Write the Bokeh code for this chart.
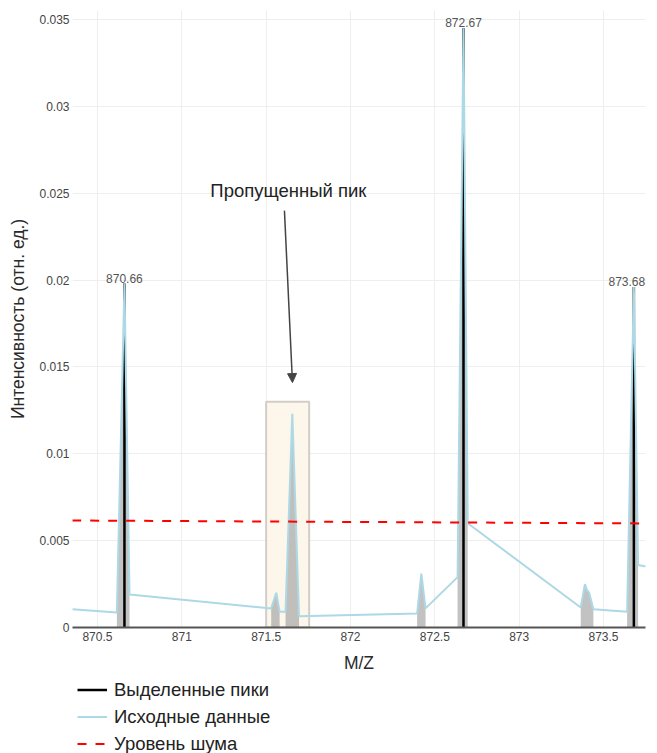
import numpy as np
from bokeh.plotting import figure
from bokeh.layouts import column
from bokeh.core.properties import value
from bokeh.models import (Range1d, FixedTicker, Legend, LegendItem, Arrow, NormalHead,
                          Label, LabelSet, ColumnDataSource)
from bokeh.embed import file_html
from bokeh.resources import INLINE

# ---- data ----
raw_mz = [870.35, 870.615, 870.66, 870.69, 871.53, 871.56, 871.58, 871.615, 871.655,
          871.695, 872.395, 872.42, 872.445, 872.635, 872.67, 872.695, 873.365, 873.39,
          873.40, 873.415, 873.44, 873.64, 873.68, 873.705, 873.76]
raw_int = [0.00105, 0.00087, 0.0198, 0.0019, 0.0011, 0.0020, 0.0009, 0.0009, 0.0123,
           0.00065, 0.0008, 0.0031, 0.0011, 0.0029, 0.0345, 0.0060, 0.00115, 0.0025,
           0.0022, 0.0020, 0.00105, 0.0009, 0.0196, 0.0036, 0.0035]

fill_lo = [870.615, 871.53, 871.615, 872.395, 872.635, 873.365, 873.64]
fill_hi = [870.69, 871.58, 871.695, 872.445, 872.695, 873.44, 873.705]

peak_mz = [870.66, 872.67, 873.68]
peak_int = [0.0198, 0.0345, 0.0196]
peak_labels = ["870.66", "872.67", "873.68"]

noise_mz = [870.35, 873.76]
noise_int = [0.00616, 0.00599]

box_mz = [871.5, 871.755]
box_int = [0.0, 0.013]

arrow_mz = [871.6085, 871.656]
arrow_int = [0.0240, 0.0141]
note_mz, note_int, note_text = 871.632, 0.02515, "Пропущенный пик"

x_ticks = [870.5, 871, 871.5, 872, 872.5, 873, 873.5]
x_tick_labels = ["870.5", "871", "871.5", "872", "872.5", "873", "873.5"]
y_ticks = [0, 0.005, 0.01, 0.015, 0.02, 0.025, 0.03, 0.035]
y_tick_labels = ["0", "0.005", "0.01", "0.015", "0.02", "0.025", "0.03", "0.035"]

legend_labels = ["Выделенные пики", "Исходные данные", "Уровень шума"]

# label nudges (px) so the last label stays inside the clipped plot frame
label_dx = [0, 0, -7]

FONT = "Liberation Sans"
C_PEAK, C_RAW, C_NOISE = "black", "#add8e6", "#ff0000"
DASH = "9 9"

p = figure(width=649, height=678, output_backend="svg", toolbar_location=None,
           x_range=Range1d(870.352, 873.749), y_range=Range1d(0, 0.03552),
           min_border_left=72, min_border_right=4, min_border_top=10, min_border_bottom=51)
p.outline_line_color = None
p.background_fill_color = "white"

# highlight box
p.quad(left=[box_mz[0]], right=[box_mz[1]], bottom=[box_int[0]], top=[box_int[1]],
       fill_color="#fcf5e9", fill_alpha=0.9, line_color="#d2cdc6", line_width=2)

# grey fills under peaks
mz = np.array(raw_mz)
it = np.array(raw_int)
for lo, hi in zip(fill_lo, fill_hi):
    m = (mz >= lo - 1e-9) & (mz <= hi + 1e-9)
    p.varea(x=mz[m], y1=np.zeros(m.sum()), y2=it[m], fill_color="#a8a8a8", fill_alpha=0.7)

# detected peaks (black)
p.segment(x0=peak_mz, y0=[0] * len(peak_mz), x1=peak_mz, y1=peak_int,
          line_color=C_PEAK, line_width=2.5)
# raw data (light blue)
p.line(raw_mz, raw_int, line_color=C_RAW, line_width=2)
# noise level
p.line(noise_mz, noise_int, line_color=C_NOISE, line_width=2, line_dash=DASH)

# peak labels
src = ColumnDataSource(dict(x=peak_mz, y=peak_int, t=peak_labels, dx=label_dx))
p.add_layout(LabelSet(x="x", y="y", text="t", source=src, x_offset="dx",
                      text_align="center", text_baseline="bottom", y_offset=1,
                      text_font_size=value("12px"), text_color=value("#555555"),
                      text_font=value(FONT)))

# annotation
p.add_layout(Arrow(end=NormalHead(size=9, fill_color="#444444", line_color="#444444"),
                   x_start=arrow_mz[0], y_start=arrow_int[0], x_end=arrow_mz[1], y_end=arrow_int[1],
                   line_color="#444444", line_width=1.5))
p.add_layout(Label(x=note_mz, y=note_int, text=note_text, text_align="center",
                   text_baseline="middle", text_font_size="18.5px", text_color="#222222",
                   text_font=FONT))

# axes
p.xaxis.ticker = FixedTicker(ticks=x_ticks)
p.xaxis.major_label_overrides = dict(zip(x_ticks, x_tick_labels))
p.yaxis.ticker = FixedTicker(ticks=y_ticks)
p.yaxis.major_label_overrides = dict(zip(y_ticks, y_tick_labels))
for ax in (p.xaxis[0], p.yaxis[0]):
    ax.major_tick_out = 0
    ax.major_tick_in = 0
    ax.minor_tick_out = 0
    ax.minor_tick_in = 0
    ax.major_label_text_font = FONT
    ax.major_label_text_font_size = "12px"
    ax.major_label_text_color = "#444444"
    ax.axis_label_text_font = FONT
    ax.axis_label_text_font_size = "17.5px"
    ax.axis_label_text_font_style = "normal"
    ax.axis_label_text_color = "#2a2a2a"
p.xaxis.axis_label = "M/Z"
p.yaxis.axis_label = "Интенсивность (отн. ед.)"
p.xaxis.axis_line_color = "#555555"
p.xaxis.axis_line_width = 2
p.yaxis.axis_line_color = None
p.xaxis.major_label_standoff = 4
p.xaxis.axis_label_standoff = 9
p.yaxis.major_label_standoff = 3
p.yaxis.axis_label_standoff = 8
p.xgrid.grid_line_color = "#eeeeee"
p.ygrid.grid_line_color = "#eeeeee"

# legend in a separate strip under the chart (dummy renderers lie outside its ranges)
lg = figure(width=649, height=75, output_backend="svg", toolbar_location=None,
            x_range=Range1d(0, 1), y_range=Range1d(0, 1),
            min_border_left=72, min_border_right=4, min_border_top=0, min_border_bottom=0)
lg.axis.visible = False
lg.grid.visible = False
lg.outline_line_color = None
l1 = lg.line(peak_mz, peak_int, line_color=C_PEAK, line_width=2.5)
l2 = lg.line(raw_mz, raw_int, line_color=C_RAW, line_width=2)
l3 = lg.line(noise_mz, noise_int, line_color=C_NOISE, line_width=2, line_dash=DASH)
legend = Legend(items=[LegendItem(label=lab, renderers=[r])
                       for lab, r in zip(legend_labels, [l1, l2, l3])],
                location=(5, -4), orientation="vertical", margin=0, padding=0, spacing=0,
                label_height=27, glyph_height=27, glyph_width=30, label_standoff=7,
                label_text_font=FONT, label_text_font_size="18.5px", label_text_color="#222222",
                border_line_color=None, background_fill_alpha=0)
lg.add_layout(legend)

open("out.html", "w").write(file_html(column(p, lg, spacing=0), INLINE))
